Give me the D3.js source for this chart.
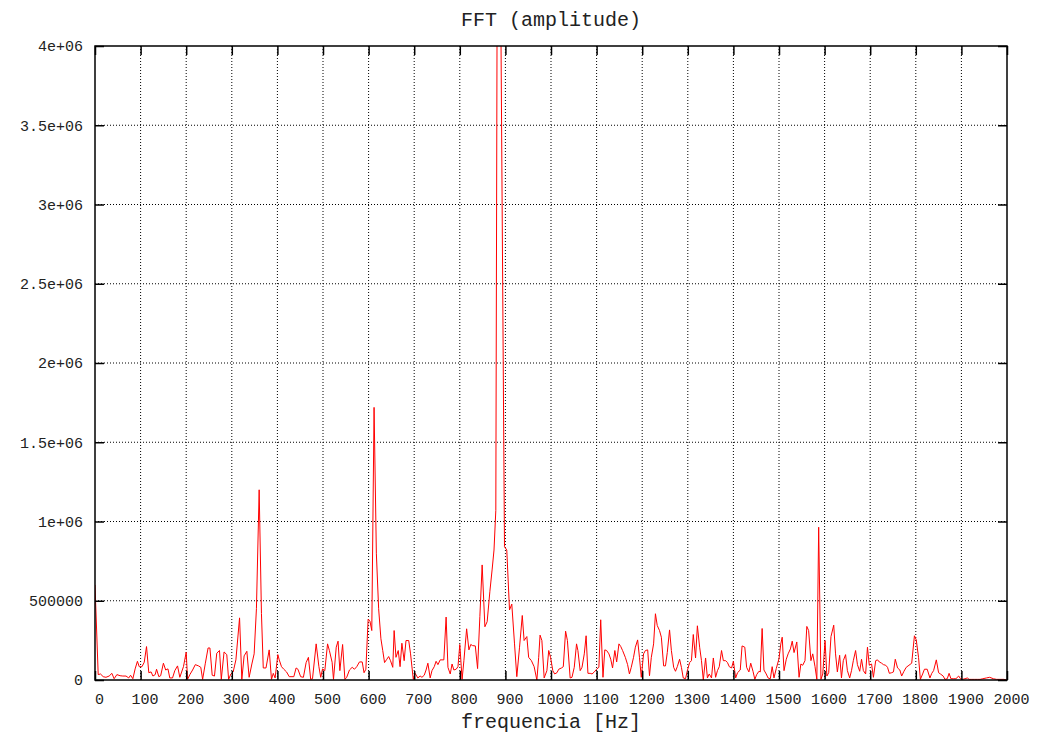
<!DOCTYPE html>
<html>
<head>
<meta charset="utf-8">
<script src="https://cdn.jsdelivr.net/npm/d3@7"></script>
<style>
  body { margin: 0; background: white; }
</style>
</head>
<body>
<script>
const POLICE = '"Liberation Mono", monospace'
const COULEUR_LIGNE = '#ff0000'
const COULEUR_AXE = 'black'

// frequencias (Hz)
const FREQ = [0,7,12,18,24,31,37,42,48,55,61,68,74,78,83,88,93,97,103,108,113,118,123,127,132,135,140,144,150,155,160,164,170,175,181,186,194,200,203,208,214,220,227,232,236,242,248,252,257,262,267,273,277,283,289,293,298,303,309,317,322,327,333,338,344,349,354,360,365,369,
  375,382,387,391,395,401,404,409,414,420,426,432,436,441,445,451,457,463,468,473,477,485,491,495,499,504,510,514,520,523,529,533,537,543,548,552,558,564,569,574,580,586,590,594,599,603,607,612,617,622,627,631,635,640,644,648,653,656,660,665,669,673,678,682,688,692,698,702,708,
  713,717,722,726,730,735,739,744,748,752,757,761,765,770,774,779,783,787,792,796,800,805,809,815,820,824,828,834,839,844,849,855,860,866,871,875,879,884,898,903,909,914,920,925,931,937,941,947,951,957,963,969,973,976,980,985,991,995,999,1004,1008,1013,1017,1023,1027,1032,1036,1042,1046,1051,1056,
  1059,1064,1068,1073,1077,1081,1086,1090,1095,1100,1105,1109,1114,1118,1122,1127,1131,1135,1140,1144,1149,1153,1157,1163,1168,1172,1176,1181,1185,1190,1194,1198,1203,1207,1212,1216,1220,1225,1229,1233,1238,1242,1247,1251,1255,1260,1264,1269,1273,1277,1282,1286,1290,1295,1299,1304,1308,1312,1317,1321,1326,1330,1334,1339,1343,1347,1352,1356,1361,1365,1369,1374,1378,1383,1387,1391,1396,1400,1405,1409,1415,
  1419,1425,1429,1434,1438,1443,1447,1451,1456,1459,1463,1467,1472,1476,1481,1485,1489,1494,1500,1504,1507,1511,1516,1520,1525,1529,1533,1539,1544,1548,1552,1557,1561,1565,1570,1574,1579,1583,1587,1592,1596,1601,1605,1609,1614,1620,1624,1628,1633,1637,1641,1646,1650,1655,1659,1663,1668,1672,1677,1681,1685,1690,1694,1698,1703,1707,1712,1716,1720,1725,1729,1734,1738,1742,1747,1751,1755,1760,
  1765,1769,1774,1779,1785,1791,1797,1801,1806,1810,1815,1819,1825,1831,1835,1839,1845,1850,1854,1860,1864,1869,1873,1877,1882,1888,1894,1898,1902,1908,1913,1917,1923,1929,1935,1941,1947,1955,1962,1970,1977,1984,1993,2000]

// amplitude
const AMP = [600000,34000,38000,21000,17000,25000,42000,8000,34000,27000,25000,25000,13000,30000,8000,70000,118000,84000,84000,112000,211000,46000,51000,25000,34000,68000,21000,27000,106000,63000,70000,13000,13000,59000,89000,17000,84000,175000,4000,34000,63000,97000,89000,80000,4000,106000,202000,202000,30000,25000,169000,186000,4000,177000,160000,4000,38000,51000,127000,392000,4000,152000,181000,17000,101000,165000,450000,1200000,420000,76000,
  76000,190000,4000,42000,13000,160000,127000,84000,68000,51000,21000,21000,21000,76000,68000,21000,17000,110000,143000,4000,8000,228000,84000,17000,70000,59000,228000,186000,112000,4000,207000,245000,59000,224000,4000,17000,63000,80000,68000,84000,114000,114000,46000,68000,384000,371000,312000,1720000,800000,450000,260000,186000,110000,131000,148000,122000,80000,312000,143000,186000,84000,232000,122000,249000,249000,165000,4000,42000,13000,
  25000,17000,30000,63000,106000,13000,59000,84000,118000,97000,127000,127000,127000,397000,80000,38000,101000,63000,68000,84000,224000,4000,122000,323000,190000,224000,217000,215000,72000,400000,726000,336000,368000,560000,700000,820000,1070000,6700000,841000,820000,442000,479000,228000,21000,207000,407000,249000,274000,143000,122000,84000,0,143000,283000,249000,13000,59000,186000,143000,59000,38000,46000,68000,76000,84000,308000,249000,13000,17000,80000,228000,
  186000,59000,80000,165000,279000,42000,42000,38000,51000,68000,80000,380000,17000,190000,186000,165000,131000,76000,186000,114000,228000,211000,186000,143000,97000,38000,80000,143000,207000,253000,143000,17000,165000,186000,190000,27000,143000,228000,418000,344000,312000,270000,89000,89000,173000,316000,186000,80000,55000,84000,131000,80000,13000,8000,59000,110000,122000,287000,139000,342000,207000,122000,0,139000,13000,38000,13000,139000,17000,59000,84000,186000,122000,122000,110000,84000,76000,118000,13000,46000,63000,
  215000,207000,80000,51000,106000,55000,4000,34000,55000,51000,325000,63000,38000,13000,8000,84000,13000,72000,135000,228000,270000,59000,131000,165000,196000,245000,173000,240000,17000,101000,93000,122000,338000,312000,122000,165000,84000,4000,964000,4000,38000,249000,25000,46000,274000,346000,165000,51000,156000,13000,122000,160000,59000,13000,59000,122000,186000,97000,55000,131000,59000,38000,207000,93000,101000,17000,122000,127000,114000,106000,97000,93000,80000,42000,46000,51000,131000,76000,
  63000,25000,55000,80000,93000,106000,279000,253000,143000,4000,38000,68000,68000,13000,42000,59000,127000,46000,38000,25000,4000,8000,42000,8000,8000,8000,25000,8000,4000,8000,13000,4000,4000,4000,4000,4000,8000,13000,17000,8000,4000,4000,4000,0]

const X_TICKS = [0,100,200,300,400,500,600,700,800,900,1000,1100,1200,1300,1400,1500,1600,1700,1800,1900,2000]
const Y_TICKS = [0,500000,1000000,1500000,2000000,2500000,3000000,3500000,4000000]
const Y_LABELS = ['0','500000','1e+06','1.5e+06','2e+06','2.5e+06','3e+06','3.5e+06','4e+06']

const width = 1037, height = 737
const gauche = 95, droite = 1007, haut = 46, bas = 680

const svg = d3.select('body').append('svg')
    .attr('width', width).attr('height', height)
    .style('display', 'block').style('background-color', 'white')

const x = d3.scaleLinear().domain([0, 2000]).range([gauche, droite])
const y = d3.scaleLinear().domain([0, 4000000]).range([bas, haut])

//grille pointillee
svg.append('g').selectAll('line').data(X_TICKS.slice(1, -1)).join('line')
    .attr('x1', d => x(d)).attr('x2', d => x(d)).attr('y1', haut).attr('y2', bas)
    .attr('stroke', COULEUR_AXE).attr('stroke-width', 1).attr('stroke-dasharray', '1,2')
svg.append('g').selectAll('line').data(Y_TICKS.slice(1, -1)).join('line')
    .attr('x1', gauche).attr('x2', droite).attr('y1', d => y(d)).attr('y2', d => y(d))
    .attr('stroke', COULEUR_AXE).attr('stroke-width', 1).attr('stroke-dasharray', '1,2')

//courbe
svg.append('clipPath').attr('id', 'zone')
    .append('rect').attr('x', gauche).attr('y', haut).attr('width', droite - gauche).attr('height', bas - haut)
const ligne = d3.line().x(d => x(d[0])).y(d => y(d[1]))
svg.append('path').datum(d3.zip(FREQ, AMP))
    .attr('d', ligne).attr('fill', 'none').attr('stroke', COULEUR_LIGNE).attr('stroke-width', 1)
    .attr('clip-path', 'url(#zone)')

//axes (ticks vers l'interieur, sur les quatre cotes)
const tick = 9
svg.append('g').attr('transform', `translate(0,${bas})`)
    .call(d3.axisBottom(x).tickValues(X_TICKS).tickSize(-tick).tickFormat(d => d).tickPadding(13))
    .call(g => g.select('.domain').remove())
    .call(g => g.selectAll('text').attr('dx', 4))
svg.append('g').attr('transform', `translate(0,${haut})`)
    .call(d3.axisTop(x).tickValues(X_TICKS).tickSize(-tick).tickFormat(''))
    .call(g => g.select('.domain').remove())
svg.append('g').attr('transform', `translate(${gauche},0)`)
    .call(d3.axisLeft(y).tickValues(Y_TICKS).tickSize(-tick).tickFormat((d, i) => Y_LABELS[i]).tickPadding(12))
    .call(g => g.select('.domain').remove())
svg.append('g').attr('transform', `translate(${droite},0)`)
    .call(d3.axisRight(y).tickValues(Y_TICKS).tickSize(-tick).tickFormat(''))
    .call(g => g.select('.domain').remove())
svg.selectAll('.tick line').attr('stroke', COULEUR_AXE).attr('stroke-width', 1.5)
svg.selectAll('.tick text').attr('font-family', POLICE).attr('font-size', 15).attr('fill', '#222')

//cadre
svg.append('rect').attr('x', gauche).attr('y', haut).attr('width', droite - gauche).attr('height', bas - haut)
    .attr('fill', 'none').attr('stroke', COULEUR_AXE).attr('stroke-width', 1.5)

//titre et legende de l'axe
svg.append('text').text('FFT (amplitude)')
    .attr('x', (gauche + droite) / 2).attr('y', 26).attr('text-anchor', 'middle')
    .attr('font-family', POLICE).attr('font-size', 20).attr('fill', '#222')
svg.append('text').text('frequencia [Hz]')
    .attr('x', (gauche + droite) / 2).attr('y', 728).attr('text-anchor', 'middle')
    .attr('font-family', POLICE).attr('font-size', 20).attr('fill', '#222')
</script>
</body>
</html>
